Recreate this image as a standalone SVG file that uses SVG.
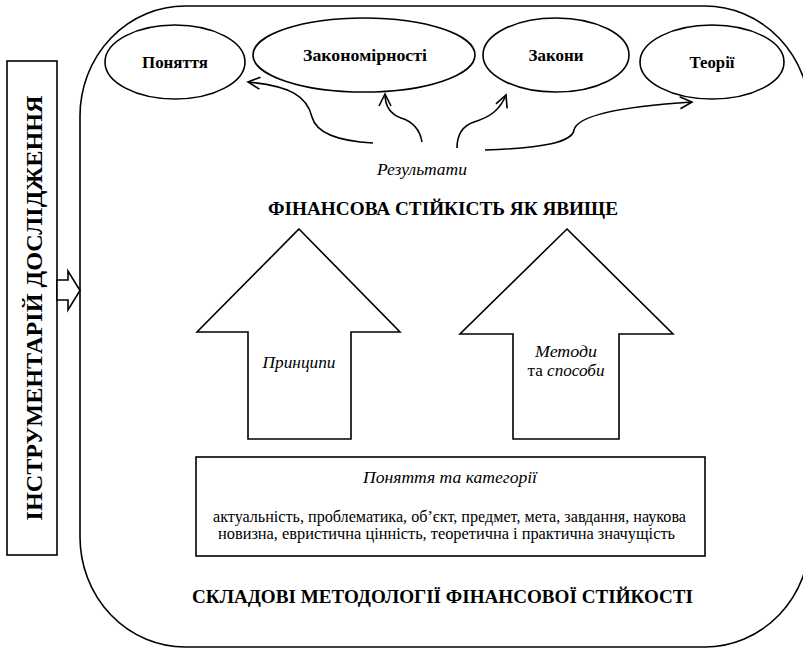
<svg xmlns="http://www.w3.org/2000/svg" width="803" height="650" viewBox="0 0 803 650">
  <defs>
    <style>
      .ln { fill: none; stroke: #000; stroke-width: 1.6; }
      .sh { fill: #fff; stroke: #000; stroke-width: 1.6; }
      text { font-family: "Liberation Serif", "Times New Roman", serif; fill: #000; text-anchor: middle; }
      .b { font-weight: bold; }
      .i { font-style: italic; }
    </style>
    <marker id="open" markerWidth="16" markerHeight="16" refX="13" refY="7" orient="auto" markerUnits="userSpaceOnUse">
      <path d="M1,1 L13,7 L1,13" fill="none" stroke="#000" stroke-width="1.6"/>
    </marker>
  </defs>
  <rect width="803" height="650" fill="#fff"/>

  <!-- outer frame: components of the methodology -->
  <g id="frame">
    <rect class="ln" x="80" y="6" width="730" height="641" rx="105" ry="110"/>
  </g>

  <!-- research toolkit side bar -->
  <g id="toolkit">
    <rect class="sh" x="7" y="61" width="50" height="494"/>
    <text class="b" transform="translate(42,308) rotate(-90)" font-size="23" textLength="425" lengthAdjust="spacingAndGlyphs">ІНСТРУМЕНТАРІЙ ДОСЛІДЖЕННЯ</text>
  </g>

  <!-- hollow arrow from side bar into frame -->
  <g id="toolkit-arrow">
    <path class="sh" d="M57,280 L68,280 L68,271 L80,290.5 L68,310 L68,300 L57,300 Z"/>
  </g>

  <!-- result ellipses -->
  <g id="ponyattia">
    <ellipse class="sh" cx="175" cy="62" rx="70" ry="37"/>
    <text class="b" x="175" y="68" font-size="17" textLength="66" lengthAdjust="spacingAndGlyphs">Поняття</text>
  </g>
  <g id="zakonomirnosti">
    <ellipse class="sh" cx="364" cy="55" rx="111" ry="37"/>
    <text class="b" x="365" y="61" font-size="17" textLength="124" lengthAdjust="spacingAndGlyphs">Закономірності</text>
  </g>
  <g id="zakony">
    <ellipse class="sh" cx="556" cy="55" rx="73" ry="37"/>
    <text class="b" x="556" y="61" font-size="17" textLength="55" lengthAdjust="spacingAndGlyphs">Закони</text>
  </g>
  <g id="teorii">
    <ellipse class="sh" cx="712" cy="62" rx="72" ry="37"/>
    <text class="b" x="712" y="68" font-size="17" textLength="45" lengthAdjust="spacingAndGlyphs">Теорії</text>
  </g>

  <!-- connectors from results to ellipses -->
  <g id="connectors">
    <path class="ln" marker-end="url(#open)" d="M373,143 C335,141 316,132 312,117 C307,96 290,86 248,82"/>
    <path class="ln" marker-end="url(#open)" d="M422,142 C420,130 414,122 401,118 C390,114 385,106 385,94"/>
    <path class="ln" marker-end="url(#open)" d="M457,148 C457,136 462,126 474,122 C490,117 500,110 506,95"/>
    <path class="ln" marker-end="url(#open)" d="M485,150 C545,148 572,142 574,130 C577,117 615,107 692,102"/>
  </g>

  <g id="results-label">
    <text class="i" x="422" y="175" font-size="16" textLength="90" lengthAdjust="spacingAndGlyphs">Результати</text>
  </g>

  <g id="phenomenon-title">
    <text class="b" x="443" y="215" font-size="18" textLength="350" lengthAdjust="spacingAndGlyphs">ФІНАНСОВА СТІЙКІСТЬ ЯК ЯВИЩЕ</text>
  </g>

  <!-- block arrows -->
  <g id="pryntsypy">
    <path class="sh" d="M299,229 L400,332 L351,332 L351,439 L248,439 L248,332 L197,332 Z"/>
    <text class="i" x="299" y="368" font-size="16" textLength="73" lengthAdjust="spacingAndGlyphs">Принципи</text>
  </g>
  <g id="metody">
    <path class="sh" d="M567,229 L673,334 L619,334 L619,439 L513,439 L513,334 L460,334 Z"/>
    <text class="i" x="566" y="357" font-size="16" textLength="62" lengthAdjust="spacingAndGlyphs">Методи</text>
    <text x="566" y="376" font-size="16" textLength="77" lengthAdjust="spacingAndGlyphs">та <tspan class="i">способи</tspan></text>
  </g>

  <!-- concepts and categories box -->
  <g id="categories">
    <rect class="sh" x="196" y="457" width="509" height="99"/>
    <text class="i" x="450" y="483" font-size="16" textLength="174" lengthAdjust="spacingAndGlyphs">Поняття та категорії</text>
    <text x="449.5" y="522" font-size="16" textLength="473" lengthAdjust="spacingAndGlyphs">актуальність, проблематика, об’єкт, предмет, мета, завдання, наукова</text>
    <text x="446.5" y="539" font-size="16" textLength="457" lengthAdjust="spacingAndGlyphs">новизна, евристична цінність, теоретична і практична значущість</text>
  </g>

  <g id="methodology-title">
    <text class="b" x="442.5" y="603" font-size="18" textLength="501" lengthAdjust="spacingAndGlyphs">СКЛАДОВІ МЕТОДОЛОГІЇ ФІНАНСОВОЇ СТІЙКОСТІ</text>
  </g>
</svg>
